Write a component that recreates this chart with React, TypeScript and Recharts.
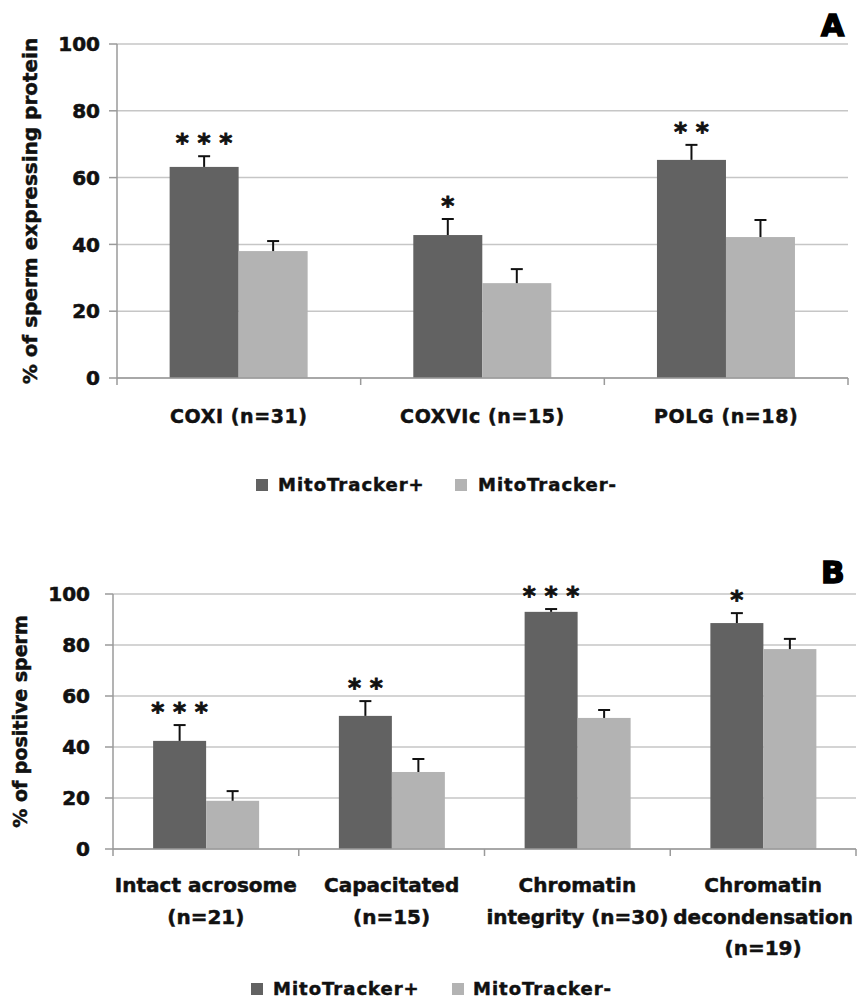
import React from "react";
import { BarChart, Bar, XAxis, YAxis, CartesianGrid, Legend } from "recharts";

// Panel A: protein expression
const catsA = ["COXI (n=31)", "COXVIc (n=15)", "POLG (n=18)"];
const posA = [63.2, 42.8, 65.3];
const posErrA = [3.2, 4.8, 4.5];
const negA = [38.0, 28.4, 42.2];
const negErrA = [3.0, 4.2, 5.1];
const sigA = ["* * *", "*", "* *"];

// Panel B: sperm function
const catsB = [
  "Intact acrosome\n(n=21)",
  "Capacitated\n(n=15)",
  "Chromatin\nintegrity (n=30)",
  "Chromatin\ndecondensation\n(n=19)",
];
const posB = [42.4, 52.2, 93.0, 88.6];
const posErrB = [6.2, 5.8, 1.1, 3.9];
const negB = [18.9, 30.2, 51.4, 78.4];
const negErrB = [3.8, 5.1, 3.1, 4.0];
const sigB = ["* * *", "* *", "* * *", "*"];

const yTicks = [0, 20, 40, 60, 80, 100];
const seriesNames = ["MitoTracker+", "MitoTracker-"];

const DARK = "#626262";
const LIGHT = "#b3b3b3";
const AXIS = "#9a9a9a";
const GRID = "#c6c6c6";
const INK = "#111";
const FONT = "'DejaVu Sans', Verdana, sans-serif";

const makeRows = (cats, pos, posErr, neg, negErr, sig) =>
  cats.map((name, i) => ({ name, pos: pos[i], posErr: posErr[i], neg: neg[i], negErr: negErr[i], sig: sig[i] }));

const dataA = makeRows(catsA, posA, posErrA, negA, negErrA, sigA);
const dataB = makeRows(catsB, posB, posErrB, negB, negErrB, sigB);

// bar + upward error whisker (+ significance stars on the dark bar)
const barShape = (valKey, errKey, withSig) => (props) => {
  const { x, y, width, height, fill, payload } = props;
  const v = payload[valKey];
  const unit = v ? height / v : 0;
  const top = y - payload[errKey] * unit;
  const cx = x + width / 2;
  return (
    <g>
      <rect x={x} y={y} width={width} height={height} fill={fill} />
      <line x1={cx} x2={cx} y1={y} y2={top} stroke={INK} strokeWidth={2} />
      <line x1={cx - 6} x2={cx + 6} y1={top} y2={top} stroke={INK} strokeWidth={2} />
      {withSig && payload.sig ? (
        <text
          x={cx}
          y={top - 5}
          textAnchor="middle"
          fontFamily={FONT}
          fontWeight="bold"
          fontSize={25}
          fill={INK}
          stroke={INK}
          strokeWidth={0.8}
        >
          {payload.sig}
        </text>
      ) : null}
    </g>
  );
};

const makeXTick = (band, n, fontSize, spacing, firstBase, lineH) => (props) => {
  const { x, y, payload, index } = props;
  const lines = String(payload.value).split("\n");
  return (
    <g>
      <line x1={x - band / 2} x2={x - band / 2} y1={y} y2={y + 7} stroke={AXIS} strokeWidth={1.5} />
      {index === n - 1 ? (
        <line x1={x + band / 2} x2={x + band / 2} y1={y} y2={y + 7} stroke={AXIS} strokeWidth={1.5} />
      ) : null}
      <text
        x={x}
        y={y + firstBase}
        textAnchor="middle"
        fontFamily={FONT}
        fontWeight="bold"
        fontSize={fontSize}
        letterSpacing={spacing}
        fill={INK}
        stroke={INK}
        strokeWidth={0.5}
      >
        {lines.map((l, i) => (
          <tspan key={i} x={x} dy={i === 0 ? 0 : lineH}>
            {l}
          </tspan>
        ))}
      </text>
    </g>
  );
};

const yLabel = (text, bx, fontSize) => (props) => {
  const vb = props.viewBox || {};
  const cy = vb.y + vb.height / 2;
  return (
    <text
      x={bx}
      y={cy}
      transform={`rotate(-90 ${bx} ${cy})`}
      textAnchor="middle"
      fontFamily={FONT}
      fontWeight="bold"
      fontSize={fontSize}
      fill={INK}
      stroke={INK}
      strokeWidth={0.5}
    >
      {text}
    </text>
  );
};

const legendContent = (sqX, txX) => (props) => (
  <div
    style={{
      position: "relative",
      height: 24,
      fontFamily: FONT,
      fontWeight: "bold",
      fontSize: 18,
      letterSpacing: 1,
      color: INK,
      WebkitTextStroke: "0.5px #111",
    }}
  >
    {(props.payload || []).map((p, i) => (
      <React.Fragment key={i}>
        <span style={{ position: "absolute", left: sqX[i], top: 6, width: 12, height: 12, background: p.color }} />
        <span style={{ position: "absolute", left: txX[i], top: 0, lineHeight: "24px", whiteSpace: "nowrap" }}>{p.value}</span>
      </React.Fragment>
    ))}
  </div>
);

function Panel({ data, top, height, margin, yWidth, yTickMargin, label, labelX, labelSize, xHeight, xFont, xSpacing, firstBase, lineH, legendTop, sqX, txX, letter, letterLeft, letterTop, letterSize }) {
  const n = data.length;
  const band = (860 - margin.left - margin.right - yWidth) / n;
  return (
    <div style={{ position: "absolute", left: 0, top, width: 860, height }}>
      <BarChart width={860} height={height} data={data} margin={margin} barCategoryGap="21.6%" barGap={0}>
        <CartesianGrid vertical={false} stroke={GRID} strokeWidth={1.5} />
        <XAxis
          dataKey="name"
          interval={0}
          height={xHeight}
          tickSize={0}
          tickMargin={0}
          tickLine={false}
          axisLine={{ stroke: AXIS, strokeWidth: 1.5 }}
          tick={makeXTick(band, n, xFont, xSpacing, firstBase, lineH)}
        />
        <YAxis
          width={yWidth}
          domain={[0, 100]}
          ticks={yTicks}
          interval={0}
          tickSize={8}
          tickMargin={yTickMargin}
          tickLine={{ stroke: AXIS, strokeWidth: 1.5 }}
          axisLine={{ stroke: AXIS, strokeWidth: 1.5 }}
          tick={{ fontFamily: FONT, fontWeight: "bold", fontSize: 20, fill: INK, stroke: INK, strokeWidth: 0.6 }}
          label={yLabel(label, labelX, labelSize)}
        />
        <Legend
          layout="horizontal"
          verticalAlign="middle"
          align="center"
          wrapperStyle={{ top: legendTop, left: 0, width: 860 }}
          content={legendContent(sqX, txX)}
        />
        <Bar dataKey="pos" name={seriesNames[0]} fill={DARK} isAnimationActive={false} shape={barShape("pos", "posErr", true)} />
        <Bar dataKey="neg" name={seriesNames[1]} fill={LIGHT} isAnimationActive={false} shape={barShape("neg", "negErr", false)} />
      </BarChart>
      <div
        style={{
          position: "absolute",
          left: letterLeft,
          top: letterTop,
          fontFamily: FONT,
          fontWeight: "bold",
          fontSize: letterSize,
          lineHeight: 1,
          color: "#000",
          WebkitTextStroke: "1.5px #000",
        }}
      >
        {letter}
      </div>
    </div>
  );
}

export default function App() {
  return (
    <div style={{ position: "absolute", left: 0, top: 0, width: 860, height: 1000, background: "#fff" }}>
      <Panel
        data={dataA}
        top={0}
        height={520}
        margin={{ top: 44, right: 12, left: 0, bottom: 82 }}
        yWidth={117}
        yTickMargin={9}
        label="% of sperm expressing protein"
        labelX={37}
        labelSize={20}
        xHeight={60}
        xFont={19}
        xSpacing={0.6}
        firstBase={45}
        lineH={31}
        legendTop={473}
        sqX={[256, 455]}
        txX={[278, 478]}
        letter="A"
        letterLeft={821}
        letterTop={11}
        letterSize={30}
      />
      <Panel
        data={dataB}
        top={540}
        height={460}
        margin={{ top: 54, right: 4, left: 0, bottom: 41 }}
        yWidth={113}
        yTickMargin={15}
        label="% of positive sperm"
        labelX={27}
        labelSize={19}
        xHeight={110}
        xFont={20}
        xSpacing={0}
        firstBase={43}
        lineH={31.5}
        legendTop={437}
        sqX={[251, 452]}
        txX={[273, 473]}
        letter="B"
        letterLeft={821}
        letterTop={17}
        letterSize={31}
      />
    </div>
  );
}
